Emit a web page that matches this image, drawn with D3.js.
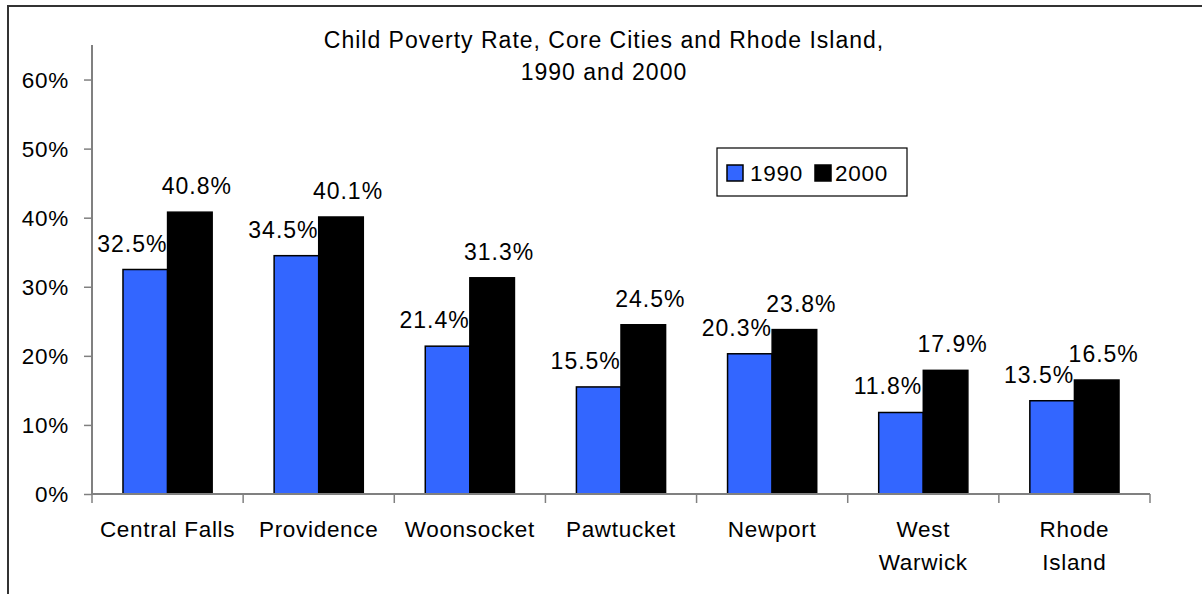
<!DOCTYPE html>
<html><head><meta charset="utf-8">
<script src="https://cdn.jsdelivr.net/npm/d3@7"></script>
<style>
html,body{margin:0;padding:0;background:#fff;}
svg text{font-family:"Liberation Sans",Arial,sans-serif;fill:#000;}
</style></head>
<body><svg id="c" width="1202" height="594"></svg>
<script>
const categories = ["Central Falls","Providence","Woonsocket","Pawtucket","Newport","West Warwick","Rhode Island"];
const categoryLines = [["Central Falls"],["Providence"],["Woonsocket"],["Pawtucket"],["Newport"],["West","Warwick"],["Rhode","Island"]];
const seriesNames = ["1990","2000"];
const values1990 = [32.5,34.5,21.4,15.5,20.3,11.8,13.5];
const values2000 = [40.8,40.1,31.3,24.5,23.8,17.9,16.5];
const yTicks = [0,10,20,30,40,50,60];
const titleLines = ["Child Poverty Rate, Core Cities and Rhode Island,","1990 and 2000"];
const colors = {"1990":"#3366FF","2000":"#000000"};

const svg = d3.select("#c");
const FS = 22.5, LS = 0.7;

// outer frame (extends past right/bottom edges)
svg.append("rect").attr("x",8).attr("y",6).attr("width",1300).attr("height",700)
  .attr("fill","none").attr("stroke","#333").attr("stroke-width",2);

const x0 = d3.scaleBand().domain(categories).range([92,1150]).paddingInner(0.41).paddingOuter(0.205);
const x1 = d3.scaleBand().domain(seriesNames).range([0,x0.bandwidth()]);
const y = d3.scaleLinear().domain([0,65]).range([494,45]);

// title
svg.append("g").selectAll("text").data(titleLines).join("text")
  .attr("x",604).attr("y",(d,i)=>48+i*32).attr("text-anchor","middle")
  .style("font-size","23px").style("letter-spacing","1px").text(d=>d);

// y axis
const yAxis = svg.append("g").attr("transform","translate(92,0)")
  .call(d3.axisLeft(y).tickValues(yTicks).tickSize(8).tickPadding(15).tickFormat(d=>d+"%"));
yAxis.select(".domain").attr("stroke","#808080").attr("stroke-width",2).attr("d","M0,"+y(65)+"V"+y(0));
yAxis.selectAll(".tick line").attr("stroke","#808080").attr("stroke-width",1.5);
yAxis.selectAll(".tick text").style("font-size",FS+"px").style("letter-spacing",LS+"px").attr("dy","0.35em");

// bars
const data = categories.map((c,i)=>({c, vals:[{s:"1990",v:values1990[i]},{s:"2000",v:values2000[i]}]}));
const groups = svg.append("g").selectAll("g").data(data).join("g")
  .attr("transform",d=>`translate(${x0(d.c)},0)`);
groups.selectAll("rect").data(d=>d.vals).join("rect")
  .attr("x",d=>x1(d.s)).attr("width",x1.bandwidth())
  .attr("y",d=>y(d.v)).attr("height",d=>y(0)-y(d.v))
  .attr("fill",d=>colors[d.s]).attr("stroke","#000").attr("stroke-width",1.5);
groups.selectAll("text").data(d=>d.vals).join("text")
  .attr("x",d=>x1(d.s)+x1.bandwidth()/2+(d.s==="1990"?-13:7))
  .attr("y",d=>y(d.v)-18).attr("text-anchor","middle")
  .style("font-size","23px").style("letter-spacing","1px")
  .text(d=>d.v.toFixed(1)+"%");

// x axis
const step = x0.step();
const xg = svg.append("g");
xg.append("line").attr("x1",92).attr("x2",1150).attr("y1",y(0)).attr("y2",y(0))
  .attr("stroke","#808080").attr("stroke-width",2);
xg.selectAll("line.t").data(d3.range(categories.length+1)).join("line").attr("class","t")
  .attr("x1",i=>92+i*step).attr("x2",i=>92+i*step).attr("y1",y(0)).attr("y2",y(0)+9)
  .attr("stroke","#808080").attr("stroke-width",1.5);
const cl = xg.selectAll("text").data(categories).join("text")
  .attr("x",d=>x0(d)+x0.bandwidth()/2).attr("y",537).attr("text-anchor","middle")
  .style("font-size",FS+"px").style("letter-spacing",LS+"px");
cl.selectAll("tspan").data((d,i)=>categoryLines[i]).join("tspan")
  .attr("x",function(){return this.parentNode.getAttribute("x");})
  .attr("dy",(d,i)=>i===0?0:33).text(d=>d);

// legend
const lg = svg.append("g");
lg.append("rect").attr("x",717).attr("y",148).attr("width",190).attr("height",48)
  .attr("fill","#fff").attr("stroke","#000").attr("stroke-width",1.2);
const lx = [727,815];
const li = lg.selectAll("g").data(seriesNames).join("g").attr("transform",(d,i)=>`translate(${lx[i]},165)`);
li.append("rect").attr("width",16).attr("height",16).attr("fill",d=>colors[d]).attr("stroke","#000").attr("stroke-width",1.5);
li.append("text").attr("x",d=>d==="1990"?23:20).attr("y",16).style("font-size",FS+"px").style("letter-spacing",LS+"px").text(d=>d);
</script></body></html>
